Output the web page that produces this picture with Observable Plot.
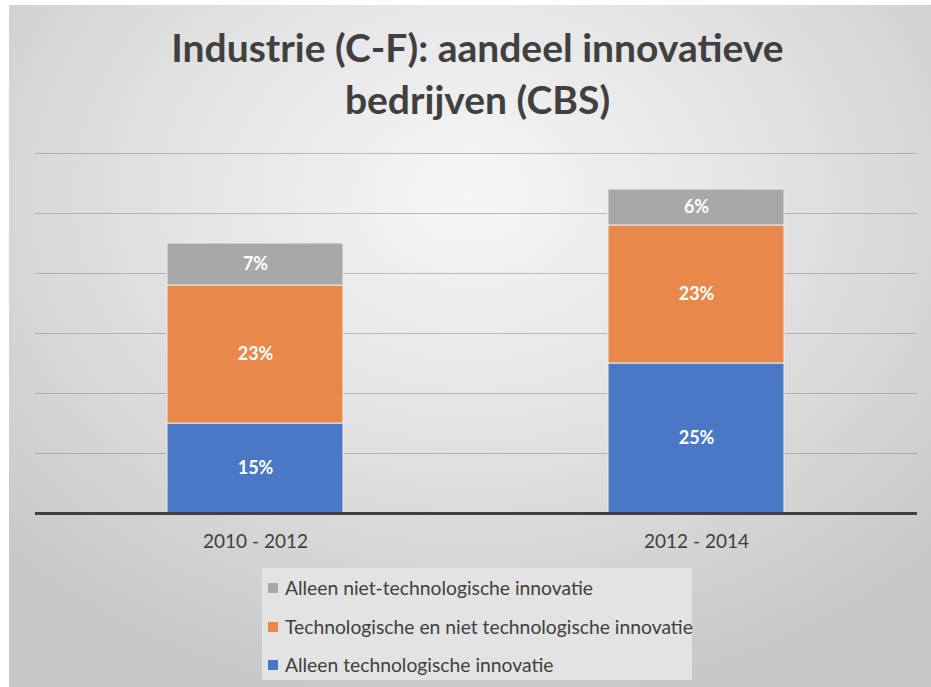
<!DOCTYPE html>
<html>
<head>
<meta charset="utf-8">
<script src="https://cdn.jsdelivr.net/npm/d3@7"></script>
<script src="https://cdn.jsdelivr.net/npm/@observablehq/plot@0.6"></script>
<style>
  html, body { margin: 0; padding: 0; background: #fff; }
  #page { position: relative; width: 931px; height: 687px; overflow: hidden; background: #fff; font-family: Lato, "Open Sans", sans-serif; }
  #bg { position: absolute; left: 9px; top: 5px; width: 922px; height: 682px;
        background: radial-gradient(ellipse 70% 75% at 50% 28%, #f6f6f6 0%, #e4e4e4 45%, #c8c8c8 100%); }
  #title { position: absolute; left: 12px; top: 21px; width: 931px; text-align: center; font-weight: bold; font-size: 39px; line-height: 52px; color: #404040; }
  #chart { position: absolute; left: 0; top: 0; }
  #legend { position: absolute; left: 262px; top: 568px; width: 430px; height: 112px; background: #e3e3e3; }
  .item { position: absolute; left: 6px; font-size: 19.3px; color: #404040; display: flex; align-items: center; white-space: nowrap; }
  .sw { width: 10px; height: 10px; margin-right: 7px; }
</style>
</head>
<body>
<div id="page">
  <div id="bg"></div>
  <div id="title">Industrie (C-F): aandeel innovatieve<br>bedrijven (CBS)</div>
  <div id="chart"></div>
  <div id="legend"></div>
</div>
<script>
const periods = ["2010 - 2012", "2012 - 2014"];
const seriesNames = [
  "Alleen technologische innovatie",
  "Technologische en niet technologische innovatie",
  "Alleen niet-technologische innovatie"
];
const seriesColors = ["#4a78c6", "#e8884a", "#a8a8a8"];
const valuesTech = [15, 25];
const valuesBoth = [23, 23];
const valuesNonTech = [7, 6];
const gridTicks = [10, 20, 30, 40, 50, 60];

const seriesValues = [valuesTech, valuesBoth, valuesNonTech];
const data = [];
seriesNames.forEach((s, i) => {
  periods.forEach((p, j) => data.push({period: p, series: s, value: seriesValues[i][j]}));
});

const chart = Plot.plot({
  width: 931,
  height: 560,
  marginTop: 153,
  marginBottom: 47,
  marginLeft: 35,
  marginRight: 14,
  style: {fontFamily: "Lato, 'Open Sans', sans-serif", background: "transparent", overflow: "visible"},
  x: {domain: periods, paddingInner: 0.6, paddingOuter: 0.3, label: null},
  y: {domain: [0, 60], axis: null},
  color: {domain: seriesNames, range: seriesColors},
  marks: [
    Plot.ruleY(gridTicks, {stroke: "#8c8c8c", strokeOpacity: 0.55, strokeWidth: 1}),
    Plot.barY(data, Plot.stackY({x: "period", y: "value", fill: "series", order: seriesNames, stroke: "#ececec", strokeWidth: 1})),
    Plot.text(data, Plot.stackY({x: "period", y: "value", z: "series", order: seriesNames, text: d => d.value + "%", fill: "white", fontWeight: "bold", fontSize: 18})),
    Plot.ruleY([0], {stroke: "#404040", strokeWidth: 3}),
    Plot.axisX({tickSize: 0, tickPadding: 21, fontSize: 19, color: "#404040", label: null})
  ]
});
document.getElementById("chart").appendChild(chart);

const legend = document.getElementById("legend");
const legendOrder = [2, 1, 0];
const rowTops = [8, 47, 85];
legendOrder.forEach((k, r) => {
  const item = document.createElement("div");
  item.className = "item";
  item.style.top = rowTops[r] + "px";
  const sw = document.createElement("span");
  sw.className = "sw";
  sw.style.background = seriesColors[k];
  item.appendChild(sw);
  item.appendChild(document.createTextNode(seriesNames[k]));
  legend.appendChild(item);
});
</script>
</body>
</html>
